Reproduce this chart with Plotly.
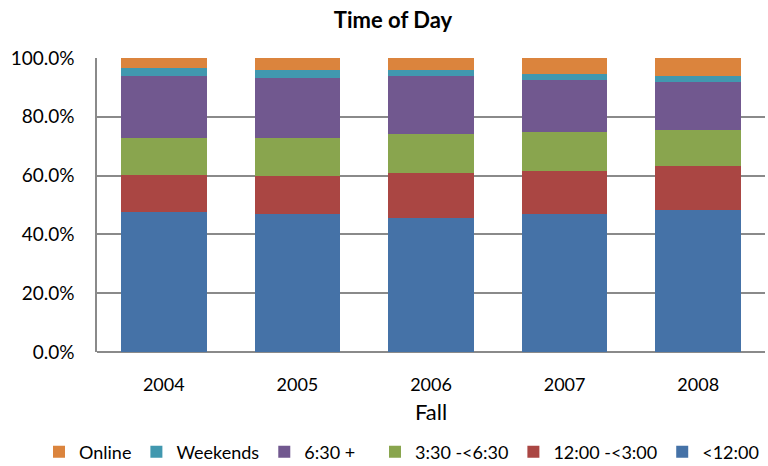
import plotly.graph_objects as go

years = ["2004", "2005", "2006", "2007", "2008"]
series_names = ["<12:00", "12:00 -<3:00", "3:30 -<6:30", "6:30 +", "Weekends", "Online"]
before_noon = [47.6, 46.9, 45.5, 46.9, 48.2]
noon_to_3 = [12.7, 12.8, 15.5, 14.8, 14.9]
three_to_630 = [12.6, 13.2, 13.2, 13.2, 12.5]
after_630 = [21.0, 20.3, 19.7, 17.6, 16.3]
weekends = [2.7, 2.7, 2.0, 2.1, 2.0]
online = [3.4, 4.1, 4.1, 5.4, 6.1]
colors = ["#4572A7", "#AA4643", "#89A54E", "#71588F", "#4198AF", "#DB843D"]
legend_ids = ["legend2", "legend2", "legend2", "legend", "legend", "legend"]

values = [before_noon, noon_to_3, three_to_630, after_630, weekends, online]

fig = go.Figure()
for name, vals, col, lg in zip(series_names, values, colors, legend_ids):
    fig.add_trace(go.Bar(x=years, y=[v / 100 for v in vals], name=name, legend=lg,
                         marker=dict(color=col, line=dict(width=0))))

font_family = "Lato, Carlito, Calibri, sans-serif"
legend_common = dict(orientation="h", xref="container", xanchor="left",
                     yref="container", y=1 - 452 / 466, yanchor="middle",
                     traceorder="reversed", font=dict(size=18, family=font_family),
                     itemwidth=30, bgcolor="rgba(0,0,0,0)")
fig.update_layout(
    barmode="stack",
    bargap=0.36,
    width=768, height=466,
    margin=dict(l=97, r=3, t=58, b=114),
    paper_bgcolor="white", plot_bgcolor="white",
    font=dict(family=font_family, size=18, color="black"),
    title=dict(text="<b>Time of Day</b>", x=393 / 768, xanchor="center",
               yref="container", y=1 - 20 / 466, yanchor="middle",
               font=dict(size=22, family=font_family)),
    xaxis=dict(title=dict(text="Fall", standoff=10), showline=False, ticks="",
               tickfont=dict(size=18), ticklabelstandoff=20, automargin=False),
    yaxis=dict(range=[0, 1.0], tickformat=".1%", dtick=0.2, showgrid=True,
               gridcolor="#8a8a8a", gridwidth=2, showline=True, linecolor="#8a8a8a",
               linewidth=1.5, ticks="", zeroline=True, zerolinecolor="#8a8a8a",
               zerolinewidth=2, tickfont=dict(size=19), ticklabelstandoff=17,
               automargin=False),
    legend=dict(x=39 / 768, **legend_common),
    legend2=dict(x=375 / 768, **legend_common),
)
fig.write_html("out.html", config={"displayModeBar": False},
               post_script="document.body.style.margin='0';document.body.style.overflow='hidden';")
